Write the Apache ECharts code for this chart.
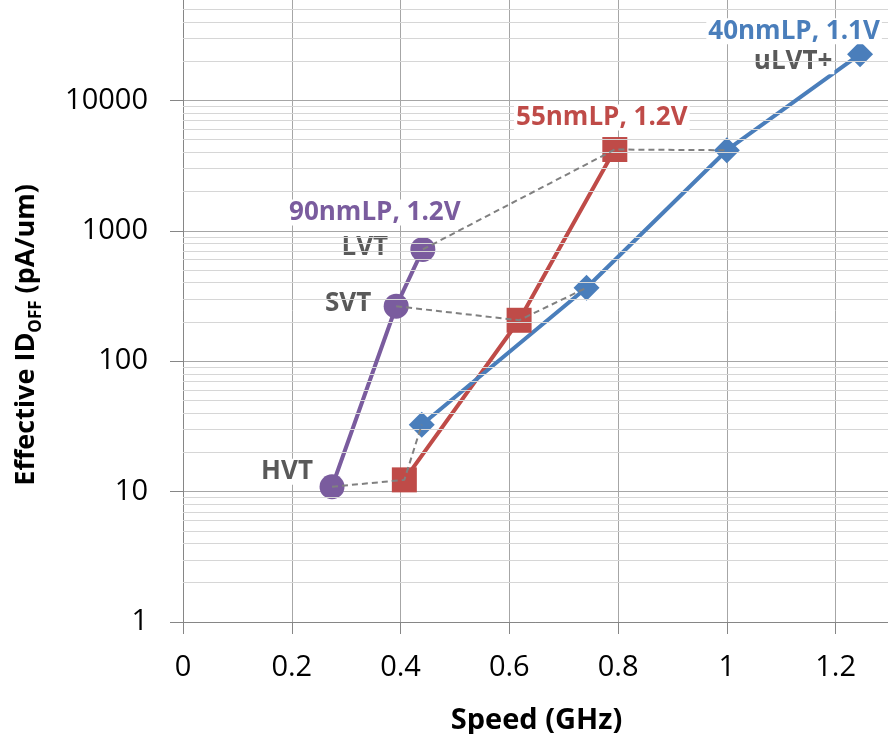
<!DOCTYPE html>
<html>
<head>
<meta charset="utf-8">
<script src="https://cdn.jsdelivr.net/npm/echarts@6/dist/echarts.min.js"></script>
<style>
  html, body { margin: 0; padding: 0; background: #fff; }
  #chart { width: 888px; height: 734px; }
</style>
</head>
<body>
<div id="chart"></div>
<script>
// data
const vtNames = ['HVT', 'SVT', 'LVT', 'uLVT+'];

const speed90 = [0.274, 0.392, 0.441];
const ioff90 = [10.9, 264, 720];

const speed55 = [0.407, 0.618, 0.794];
const ioff55 = [12.3, 206, 4200];

const speed40 = [0.439, 0.742, 1.0, 1.245];
const ioff40 = [32.6, 366, 4150, 22600];

const xTicks = [0, 0.2, 0.4, 0.6, 0.8, 1, 1.2];
const yTicks = [1, 10, 100, 1000, 10000, 100000];
const minorGrid = [2, 3, 4, 5, 6, 7, 8, 9,
  20, 30, 40, 50, 60, 70, 80, 90,
  200, 300, 400, 500, 600, 700, 800, 900,
  2000, 3000, 4000, 5000, 6000, 7000, 8000, 9000,
  20000, 30000, 40000, 50000, 60000, 70000, 80000, 90000];

const PURPLE = '#7a5c9e', RED = '#bf4b48', BLUE = '#4a7ebb';
const FONT = '"Open Sans", sans-serif';

function pts(xs, ys) {
  return xs.map((x, i) => [x, ys[i]]);
}

// bold annotation stuck to a point
function tag(text, color, dx, dy) {
  return {
    show: true, position: 'inside', offset: [dx, dy],
    formatter: text, color: color, fontFamily: FONT,
    fontWeight: 'bold', fontSize: 26, backgroundColor: '#fff', padding: [0, 2],
    textBorderWidth: 0, textBorderColor: 'transparent'
  };
}

const d90 = pts(speed90, ioff90).map(v => ({ value: v }));
d90[0].label = tag(vtNames[0], '#595959', -45, -15);
d90[1].label = tag(vtNames[1], '#595959', -48, -3);
d90[2].label = tag(vtNames[2], '#595959', -58, -2);

const d55 = pts(speed55, ioff55).map(v => ({ value: v }));
const d40 = pts(speed40, ioff40).map(v => ({ value: v }));
d40[3].label = tag(vtNames[3], '#595959', -67, 7);

// connectors between nodes at the same VT
const connectors = [0, 1, 2].map(i => ({
  type: 'line', z: 6, symbol: 'none', silent: true,
  lineStyle: { color: '#808080', width: 2, type: [6, 4] },
  data: [[speed90[i], ioff90[i]], [speed55[i], ioff55[i]], [speed40[i], ioff40[i]]]
}));

const chart = echarts.init(document.getElementById('chart'));
chart.setOption({
  animation: false,
  grid: { left: 183, right: -2, top: -30, bottom: 112, outerBoundsMode: 'none', containLabel: false },
  xAxis: {
    type: 'value', min: 0, max: 1.3, interval: 0.2,
    axisLine: { lineStyle: { color: '#868686' } },
    axisTick: { show: true, length: 12, lineStyle: { color: '#868686' } },
    axisLabel: {
      color: '#000', fontFamily: FONT, fontSize: 29, margin: 31,
      showMaxLabel: false,
      formatter: v => xTicks.includes(Math.round(v * 10) / 10) ? String(Math.round(v * 10) / 10) : ''
    },
    splitLine: { show: true, lineStyle: { color: '#a6a6a6' } },
    name: 'Speed (GHz)', nameLocation: 'middle', nameGap: 84,
    nameTextStyle: { color: '#000', fontFamily: FONT, fontSize: 29, fontWeight: 'bold' }
  },
  yAxis: {
    type: 'log', logBase: 10, min: 1, max: 100000,
    axisLine: { show: true, lineStyle: { color: '#868686' } },
    axisTick: { show: true, length: 13, lineStyle: { color: '#868686' } },
    axisLabel: {
      color: '#000', fontFamily: FONT, fontSize: 29, margin: 35,
      formatter: v => {
        const r = Math.round(v);
        return yTicks.includes(r) ? String(r) : '';
      }
    },
    splitLine: { show: true, lineStyle: { color: '#a6a6a6' } }
  },
  graphic: [{
    type: 'text', left: 13, top: 184, rotation: Math.PI / 2,
    style: {
      text: '{a|Effective ID}{s|OFF}{a| (pA/um)}',
      rich: {
        a: { fontFamily: FONT, fontSize: 27, fontWeight: 'bold', fill: '#000', verticalAlign: 'bottom', padding: [0, 0, 5, 0] },
        s: { fontFamily: FONT, fontSize: 17, fontWeight: 'bold', fill: '#000', verticalAlign: 'bottom' }
      }
    }
  }],
  series: [
    {
      type: 'line', z: 1, silent: true, data: [],
      markLine: {
        silent: true, symbol: 'none', animation: false,
        label: { show: false },
        lineStyle: { color: '#d6d6d6', width: 1, type: 'solid' },
        data: minorGrid.map(v => ({ yAxis: v }))
      }
    },
    {
      name: '90nmLP, 1.2V', type: 'line', z: 3, data: d90,
      symbol: 'circle', symbolSize: 25,
      itemStyle: { color: PURPLE }, lineStyle: { color: PURPLE, width: 4 }
    },
    {
      name: '55nmLP, 1.2V', type: 'line', z: 3, data: d55,
      symbol: 'rect', symbolSize: 25,
      itemStyle: { color: RED }, lineStyle: { color: RED, width: 4 }
    },
    {
      name: '40nmLP, 1.1V', type: 'line', z: 3, data: d40,
      symbol: 'diamond', symbolSize: 26,
      itemStyle: { color: BLUE }, lineStyle: { color: BLUE, width: 4 }
    },
    ...connectors,
    {
      // technology names, anchored to each curve's last point
      type: 'scatter', z: 7, silent: true, symbolSize: 1,
      itemStyle: { color: 'rgba(0,0,0,0)', opacity: 1 },
      data: [
        { value: [speed90[2], ioff90[2]], label: tag('90nmLP, 1.2V', PURPLE, -48, -37) },
        { value: [speed55[2], ioff55[2]], label: tag('55nmLP, 1.2V', RED, -13, -32) },
        { value: [speed40[3], ioff40[3]], label: tag('40nmLP, 1.1V', BLUE, -66, -23) }
      ]
    }
  ]
});
</script>
</body>
</html>
